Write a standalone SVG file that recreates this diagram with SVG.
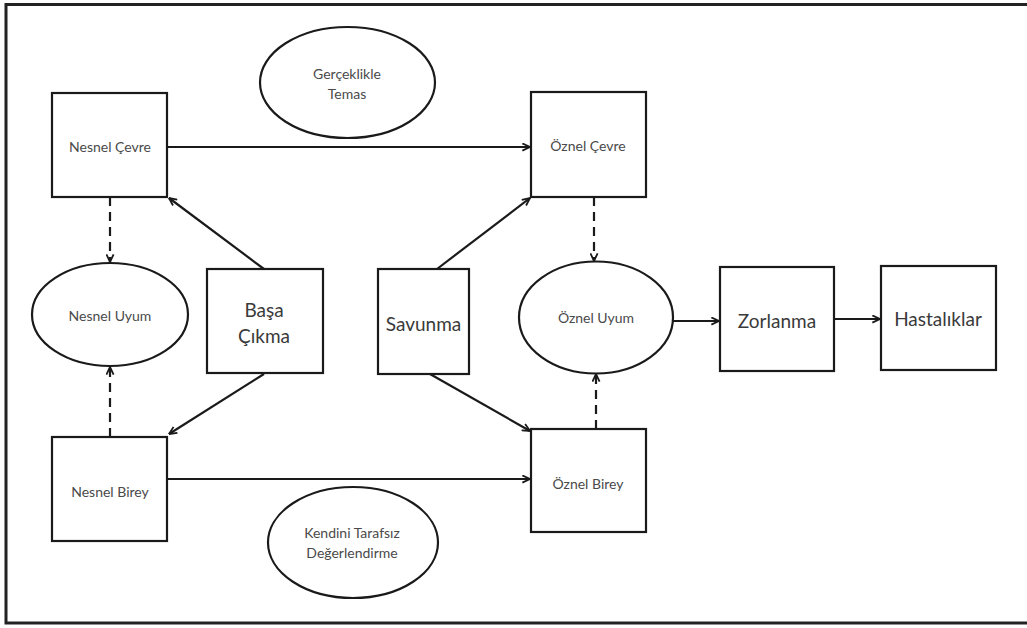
<svg xmlns="http://www.w3.org/2000/svg" width="1027" height="628" viewBox="0 0 1027 628">
<defs>
<style>
.box{fill:#fff;stroke:#1a1a1a;stroke-width:2.2}
.el{fill:#fff;stroke:#1a1a1a;stroke-width:2.2}
.t{font-family:Lato,"Open Sans","Liberation Sans",sans-serif;fill:#4a4a4a;text-anchor:middle;dominant-baseline:central}
.s{font-size:14px}
.b{font-size:19px;fill:#3a3a3a}
.c{stroke:#1a1a1a;stroke-width:2.2;fill:none}
.d{stroke-dasharray:9,6}
</style>
<marker id="ah" viewBox="0 0 10 10" refX="9.5" refY="5" markerWidth="9" markerHeight="9" markerUnits="userSpaceOnUse" orient="auto">
<path d="M1,1 L9.5,5 L1,9" fill="none" stroke="#1a1a1a" stroke-width="2"/>
</marker>
</defs>
<rect width="1027" height="628" fill="#fff"/>
<path d="M1032,4.5 H6 V623 H1032" fill="none" stroke="#222" stroke-width="3"/>

<g id="connectors">
<line class="c" x1="167" y1="147" x2="530" y2="147" marker-end="url(#ah)"/>
<line class="c" x1="167" y1="479" x2="530" y2="479" marker-end="url(#ah)"/>
<line class="c" x1="264" y1="269" x2="169" y2="198" marker-end="url(#ah)"/>
<line class="c" x1="264" y1="374" x2="169" y2="434" marker-end="url(#ah)"/>
<line class="c" x1="437" y1="269" x2="530" y2="198" marker-end="url(#ah)"/>
<line class="c" x1="430" y1="374" x2="530" y2="431" marker-end="url(#ah)"/>
<line class="c d" x1="110" y1="197" x2="110" y2="262" marker-end="url(#ah)"/>
<line class="c d" x1="110" y1="437" x2="110" y2="367" marker-end="url(#ah)"/>
<line class="c d" x1="594" y1="197" x2="594" y2="261" marker-end="url(#ah)"/>
<line class="c d" x1="596" y1="429" x2="596" y2="374" marker-end="url(#ah)"/>
<line class="c" x1="673" y1="321" x2="719" y2="321" marker-end="url(#ah)"/>
<line class="c" x1="834" y1="319" x2="880" y2="319" marker-end="url(#ah)"/>
</g>

<g id="gercek">
<ellipse class="el" cx="347.5" cy="82.5" rx="87.5" ry="55.5"/>
<text class="t s" x="347" y="73">Gerçeklikle</text>
<text class="t s" x="347" y="93">Temas</text>
</g>
<g id="nesnel-cevre">
<rect class="box" x="52" y="93" width="115" height="104"/>
<text class="t s" x="110" y="146">Nesnel Çevre</text>
</g>
<g id="oznel-cevre">
<rect class="box" x="531" y="92" width="115" height="105"/>
<text class="t s" x="588" y="145">Öznel Çevre</text>
</g>
<g id="nesnel-uyum">
<ellipse class="el" cx="110" cy="314.5" rx="78" ry="51.5"/>
<text class="t s" x="110" y="315">Nesnel Uyum</text>
</g>
<g id="basa-cikma">
<rect class="box" x="207" y="269" width="116" height="104"/>
<text class="t b" x="264" y="309">Başa</text>
<text class="t b" x="264" y="335">Çıkma</text>
</g>
<g id="savunma">
<rect class="box" x="378" y="269" width="91" height="105"/>
<text class="t b" x="423.5" y="323">Savunma</text>
</g>
<g id="oznel-uyum">
<ellipse class="el" cx="596" cy="317.5" rx="77" ry="56"/>
<text class="t s" x="596" y="317">Öznel Uyum</text>
</g>
<g id="zorlanma">
<rect class="box" x="720" y="267" width="114" height="104"/>
<text class="t b" x="777" y="320">Zorlanma</text>
</g>
<g id="hastaliklar">
<rect class="box" x="881" y="266" width="115" height="104"/>
<text class="t b" x="938" y="318">Hastalıklar</text>
</g>
<g id="nesnel-birey">
<rect class="box" x="52" y="437" width="115" height="104"/>
<text class="t s" x="110" y="491">Nesnel Birey</text>
</g>
<g id="oznel-birey">
<rect class="box" x="531" y="429" width="115" height="103"/>
<text class="t s" x="588" y="483">Öznel Birey</text>
</g>
<g id="kendini">
<ellipse class="el" cx="353" cy="542.5" rx="85" ry="55.5"/>
<text class="t s" x="352" y="532">Kendini Tarafsız</text>
<text class="t s" x="352" y="552">Değerlendirme</text>
</g>
</svg>
